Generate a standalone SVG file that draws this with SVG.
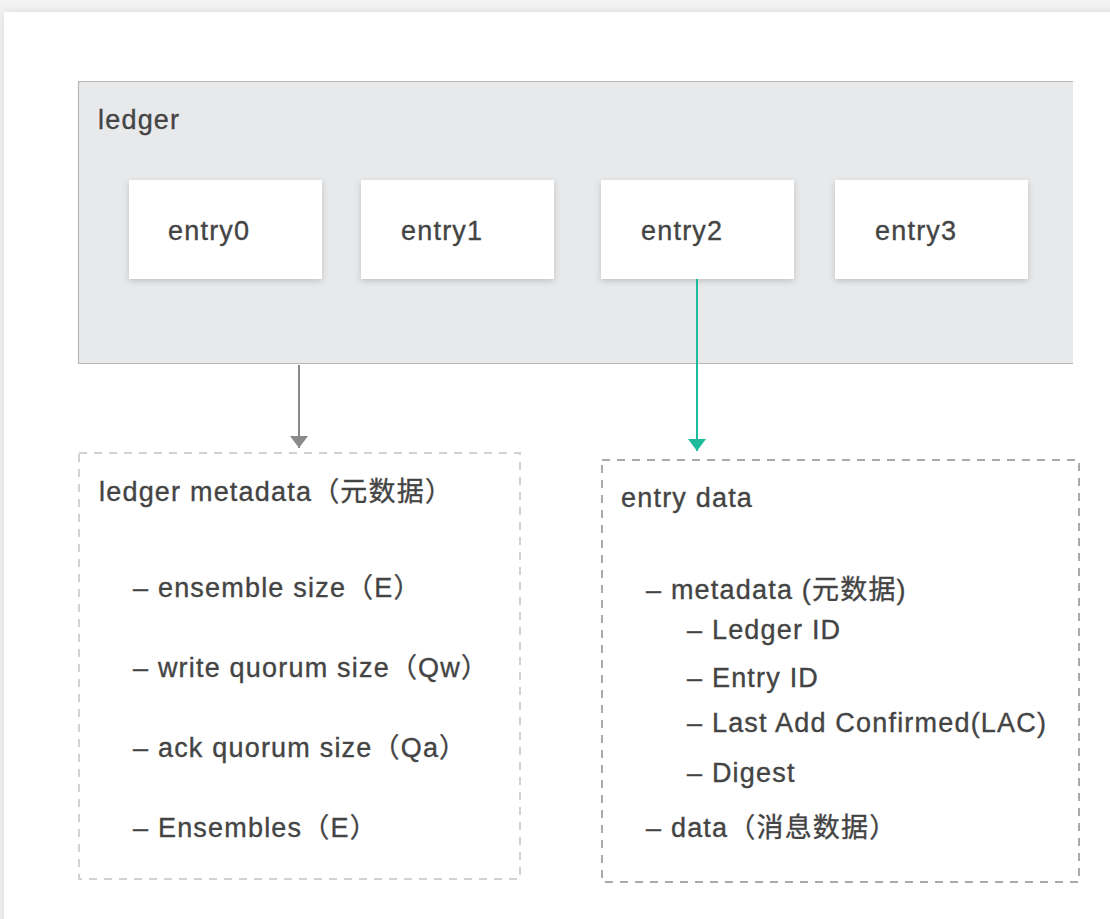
<svg xmlns="http://www.w3.org/2000/svg" width="1110" height="919" viewBox="0 0 1110 919">
<style>
text{font-family:"Liberation Sans","Noto Sans CJK SC",Arial,sans-serif;fill:#444;stroke:#444;stroke-width:0.35px;font-size:27px;letter-spacing:1.2px}
.entry{fill:#fff;filter:url(#sh)}
.dash{fill:none;stroke-width:2;stroke-dasharray:8 7}
</style>
<defs>
<filter id="card" x="-5%" y="-5%" width="110%" height="110%"><feDropShadow dx="0" dy="0" stdDeviation="4" flood-color="#000" flood-opacity="0.12"/></filter>
<filter id="sh" x="-10%" y="-10%" width="120%" height="130%"><feDropShadow dx="0" dy="2" stdDeviation="3" flood-color="#000" flood-opacity="0.18"/></filter>
<marker id="ag" markerWidth="12" markerHeight="18" refX="12" refY="9" orient="auto" markerUnits="userSpaceOnUse" viewBox="0 0 12 18"><path d="M0,0 L12,9 L0,18 Z" fill="#8a8a8a"/></marker>
<marker id="at" markerWidth="12" markerHeight="18" refX="12" refY="9" orient="auto" markerUnits="userSpaceOnUse" viewBox="0 0 12 18"><path d="M0,0 L12,9 L0,18 Z" fill="#1dbb9b"/></marker>
</defs>
<rect x="0" y="0" width="1110" height="919" fill="#f3f3f3"/>
<rect x="4" y="12" width="1120" height="920" fill="#fff" filter="url(#card)"/>
<g id="ledger">
<rect x="78" y="81" width="995" height="283" fill="#e8e9eb"/>
<path d="M78,81.5 H1073 M78.5,81 V364 M78,363.5 H1073" stroke="#b8b8b8" stroke-width="1.2" fill="none"/>
<text x="98" y="129">ledger</text>
</g>
<g id="entry0"><rect class="entry" x="129" y="180" width="193" height="99"/><text x="168" y="240">entry0</text></g>
<g id="entry1"><rect class="entry" x="361" y="180" width="193" height="99"/><text x="401" y="240">entry1</text></g>
<g id="entry2"><rect class="entry" x="601" y="180" width="193" height="99"/><text x="641" y="240">entry2</text></g>
<g id="entry3"><rect class="entry" x="835" y="180" width="193" height="99"/><text x="875" y="240">entry3</text></g>
<g id="connectors">
<line x1="299" y1="365" x2="299" y2="448" stroke="#8a8a8a" stroke-width="2" marker-end="url(#ag)"/>
<line x1="697" y1="279" x2="697" y2="451" stroke="#1dbb9b" stroke-width="2" marker-end="url(#at)"/>
</g>
<g id="ledger-metadata">
<rect class="dash" x="79" y="453" width="441" height="426" stroke="#d2d2d2"/>
<text x="99" y="501">ledger metadata（元数据）</text>
<text x="133" y="597">– ensemble size（E）</text>
<text x="133" y="677">– write quorum size（Qw）</text>
<text x="133" y="757">– ack quorum size（Qa）</text>
<text x="133" y="837">– Ensembles（E）</text>
</g>
<g id="entry-data">
<rect class="dash" x="602" y="460" width="477" height="422" stroke="#aaaaaa"/>
<text x="621" y="507">entry data</text>
<text x="646" y="599">– metadata (元数据)</text>
<text x="687" y="639">– Ledger ID</text>
<text x="687" y="687">– Entry ID</text>
<text x="687" y="732">– Last Add Confirmed(LAC)</text>
<text x="687" y="782">– Digest</text>
<text x="646" y="837">– data（消息数据）</text>
</g>
</svg>
